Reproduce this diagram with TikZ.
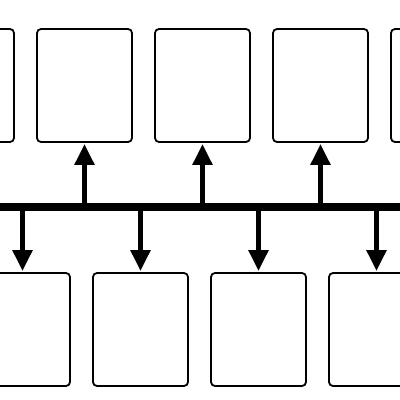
\documentclass[tikz,border=0pt]{standalone}
\usetikzlibrary{arrows.meta}
\tikzset{
  panel/.style={draw, line width=1.8pt, rounded corners=4pt, minimum width=95pt, minimum height=113pt},
  branch/.style={line width=5.5pt, -{Triangle[length=21pt,width=19pt]}, shorten >=1pt},
}
\begin{document}
\begin{tikzpicture}[x=1pt,y=-1pt]
  \clip (0,0) rectangle (400,400);
  % top row
  \foreach \k in {0,...,4}
    \node[panel] (top\k) at (-33.5+118*\k, 85.5) {};
  % bottom row
  \foreach \k in {0,...,3}
    \node[panel] (bot\k) at (22.5+118*\k, 329.5) {};
  % bus
  \coordinate (busL) at (-10,207);
  \coordinate (busR) at (410,207);
  \draw[line width=7.5pt] (busL) -- (busR);
  \foreach \k in {1,2,3}
    \draw[branch] (top\k.south |- busL) -- (top\k.south);
  \foreach \k in {0,...,3}
    \draw[branch] (bot\k.north |- busL) -- (bot\k.north);
\end{tikzpicture}
\end{document}
